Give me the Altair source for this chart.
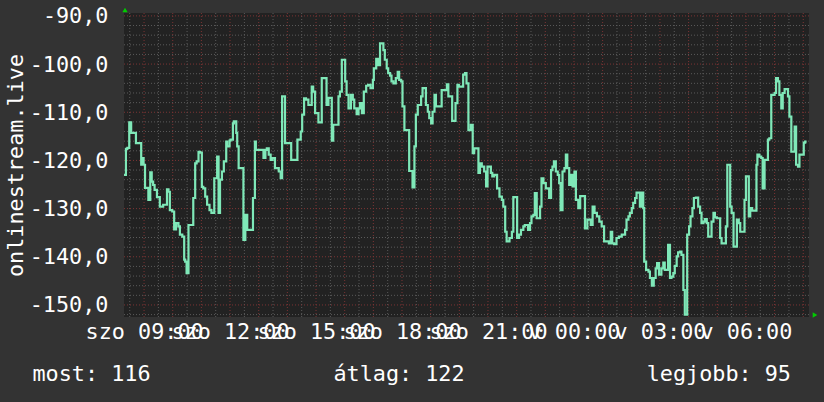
import altair as alt
import pandas as pd

# time in minutes since Saturday 00:00, value of the series
t_min = [
    498, 502, 505, 509, 513, 523, 534, 536, 539, 542,
    549, 553, 556, 559, 562, 567, 573, 580, 588, 591,
    594, 599, 603, 607, 612, 615, 620, 624, 626, 629,
    633, 643, 647, 650, 654, 657, 661, 664, 668, 672,
    677, 681, 687, 693, 696, 699, 703, 707, 712, 714,
    719, 721, 726, 728, 733, 735, 738, 748, 752, 756,
    768, 772, 774, 790, 794, 797, 801, 805, 809, 814,
    822, 826, 829, 835, 848, 861, 868, 871, 875, 879,
    884, 891, 894, 898, 905, 912, 922, 926, 933, 936,
    947, 950, 954, 961, 964, 968, 973, 977, 980, 985,
    989, 992, 996, 1000, 1005, 1009, 1014, 1019, 1021, 1026,
    1030, 1034, 1041, 1044, 1048, 1051, 1055, 1058, 1062, 1067,
    1071, 1074, 1078, 1081, 1085, 1095, 1102, 1106, 1109, 1113,
    1120, 1123, 1130, 1134, 1137, 1141, 1144, 1148, 1151, 1163,
    1174, 1177, 1185, 1192, 1196, 1199, 1208, 1212, 1215, 1219,
    1224, 1228, 1231, 1240, 1243, 1247, 1252, 1256, 1259, 1266,
    1269, 1273, 1279, 1284, 1289, 1292, 1296, 1299, 1305, 1310,
    1313, 1321, 1325, 1329, 1334, 1337, 1344, 1348, 1351, 1355,
    1358, 1362, 1369, 1372, 1376, 1381, 1388, 1392, 1395, 1398,
    1402, 1406, 1409, 1412, 1416, 1420, 1423, 1426, 1430, 1434,
    1437, 1441, 1444, 1449, 1453, 1463, 1468, 1475, 1479, 1483,
    1488, 1493, 1498, 1503, 1513, 1517, 1520, 1524, 1529, 1534,
    1540, 1547, 1550, 1554, 1557, 1561, 1564, 1568, 1571, 1578,
    1582, 1585, 1587, 1591, 1596, 1599, 1603, 1607, 1611, 1614,
    1618, 1623, 1627, 1630, 1637, 1641, 1644, 1648, 1651, 1655,
    1658, 1662, 1665, 1669, 1672, 1677, 1681, 1684, 1688, 1691,
    1695, 1700, 1704, 1707, 1711, 1714, 1718, 1721, 1728, 1732,
    1735, 1739, 1746, 1749, 1758, 1761, 1767, 1770, 1774, 1781,
    1785, 1788, 1797, 1800, 1806, 1809, 1813, 1822, 1824, 1828,
    1832, 1835, 1839, 1846, 1849, 1853, 1860, 1863, 1867, 1870,
    1874, 1877, 1881, 1888, 1891, 1895, 1902, 1905, 1909, 1912,
    1921, 1924, 1927,
]

values = [
    -123.0, -117.6, -117.4, -112.1, -114.3, -116.4, -120.9, -119.5, -120.9, -125.7,
    -128.2, -122.5, -124.4, -125.1, -126.1, -127.6, -129.6, -129.2, -126.0, -126.5,
    -130.3, -130.6, -134.3, -133.0, -133.7, -135.4, -135.8, -140.6, -141.0, -143.4,
    -133.4, -127.8, -120.6, -120.2, -118.2, -118.4, -125.5, -125.8, -127.5, -129.2,
    -130.3, -130.9, -123.7, -119.2, -130.9, -124.0, -122.3, -120.2, -116.1, -117.1,
    -115.9, -115.7, -112.3, -111.9, -114.3, -117.1, -121.6, -136.5, -131.3, -134.4,
    -127.8, -116.1, -117.8, -119.5, -117.8, -117.5, -118.8, -119.9, -119.5, -121.6,
    -122.3, -123.7, -106.7, -116.4, -119.9, -115.7, -114.0, -110.5, -107.1, -107.4,
    -108.5, -104.7, -105.7, -110.2, -112.1, -102.9, -108.5, -107.0, -115.9, -112.6,
    -106.7, -105.7, -99.1, -103.6, -106.4, -109.2, -106.4, -107.4, -109.2, -110.4,
    -109.2, -108.1, -110.2, -105.7, -104.5, -104.3, -105.0, -103.3, -100.9, -98.9,
    -100.2, -95.7, -97.1, -99.1, -100.9, -101.9, -102.4, -103.6, -104.0, -102.9,
    -101.6, -103.3, -103.6, -108.8, -113.7, -122.2, -125.6, -117.1, -110.5, -108.5,
    -106.7, -105.0, -108.5, -109.9, -111.2, -112.3, -109.9, -106.4, -108.8, -105.4,
    -104.2, -106.7, -111.8, -108.1, -104.3, -104.7, -102.2, -101.9, -104.0, -113.7,
    -112.6, -118.5, -117.5, -122.6, -120.6, -121.3, -122.3, -125.4, -121.3, -122.6,
    -123.3, -123.0, -125.8, -127.5, -128.2, -129.6, -134.8, -136.8, -136.1, -134.8,
    -127.6, -136.1, -135.4, -134.4, -133.7, -133.4, -134.4, -133.0, -131.6, -131.3,
    -126.8, -132.0, -129.6, -123.7, -124.7, -125.8, -127.8, -122.0, -121.3, -120.2,
    -122.3, -123.0, -124.7, -130.3, -122.3, -121.6, -118.8, -121.6, -125.1, -123.0,
    -125.4, -122.3, -128.2, -129.9, -127.4, -134.1, -132.3, -133.4, -129.6, -130.9,
    -131.6, -132.7, -133.7, -136.8, -137.2, -134.8, -137.2, -137.4, -136.1, -135.8,
    -135.4, -134.4, -132.3, -131.6, -130.9, -129.9, -128.8, -127.8, -126.7, -129.6,
    -126.7, -129.9, -141.0, -142.7, -143.1, -144.4, -146.0, -144.4, -142.4, -141.3,
    -143.7, -142.4, -141.2, -142.7, -137.5, -144.4, -144.1, -143.4, -141.9, -139.9,
    -139.1, -138.9, -139.6, -146.9, -152.0, -135.4, -133.7, -131.6, -129.9, -127.8,
    -127.7, -129.6, -130.9, -133.0, -132.7, -132.2, -133.0, -135.8, -132.7, -130.9,
    -131.8, -132.0, -136.1, -137.2, -133.7, -120.9, -129.6, -130.9, -137.9, -132.3,
    -133.0, -134.8, -128.2, -123.3, -131.6, -129.9, -130.4, -120.9, -118.8, -119.2,
    -119.5, -125.8, -119.9, -115.7, -115.4, -106.4, -106.0, -102.9, -103.6, -106.4,
    -109.2, -106.0, -105.2, -106.7, -110.9, -118.2, -113.0, -120.9, -121.3, -118.8,
    -116.3, -116.1, -116.1,
]

x_tick_min = [540, 720, 900, 1080, 1260, 1440, 1620, 1800]
x_tick_labels = ["szo 09:00", "szo 12:00", "szo 15:00", "szo 18:00",
                 "szo 21:00", "v 00:00", "v 03:00", "v 06:00"]
y_ticks = [-90, -100, -110, -120, -130, -140, -150]
y_title = "onlinestream.live"
stat_labels = ["most: 116", "átlag: 122", "legjobb: 95"]

X_DOMAIN = [498, 1932]
Y_DOMAIN = [-152.5, -89.4]

FONT = "DejaVu Sans Mono"
FS = 21.8
BG = "#333333"
CANVAS = "#222222"
MINOR = "#5a5a5a"
MAJOR = "#7c3434"
LINE = "#7fe8b8"
ARROW = "#00cc00"

W, H = 685, 304

df = pd.DataFrame({"t": t_min, "v": values})
xs = alt.Scale(domain=X_DOMAIN, nice=False, zero=False)
ys = alt.Scale(domain=Y_DOMAIN, nice=False, zero=False)

minor_x = pd.DataFrame({"t": list(range(510, X_DOMAIN[1], 60))})
major_x = pd.DataFrame({"t": list(range(540, X_DOMAIN[1], 60))})
minor_y = pd.DataFrame({"v": [v for v in range(-152, -89, 2) if v % 10 != 0]})
major_y = pd.DataFrame({"v": list(range(-150, -89, 10))})

xlab_expr = " : ".join(f"datum.value == {t} ? '{l}'" for t, l in zip(x_tick_min, x_tick_labels)) + " : ''"
ylab_expr = "(datum.value < 0 ? '-' : '') + abs(datum.value) + ',0'"

X_AXIS = alt.Axis(
    values=x_tick_min, labelExpr=xlab_expr, title=None, grid=False, ticks=False,
    tickSize=0, domain=False, labelPadding=21, labelBaseline="alphabetic",
    labelOverlap=False, labelFlush=False, labelBound=False, labelFont=FONT,
    labelFontSize=FS, labelColor="white")
Y_AXIS = alt.Axis(
    values=y_ticks, labelExpr=ylab_expr, title=y_title, grid=False, ticks=False,
    tickSize=0, domain=False, labelPadding=16, labelFont=FONT, labelFontSize=FS,
    labelColor="white", labelOverlap=False, titleFont=FONT, titleFontSize=FS,
    titleColor="white", titleFontWeight="normal", titleAngle=270,
    titleX=-102, titleY=H / 2, titleAlign="center", titleBaseline="alphabetic")

def vrule(data, color):
    return alt.Chart(data).mark_rule(color=color, strokeDash=[1, 2], strokeWidth=1).encode(
        x=alt.X("t:Q", scale=xs, axis=X_AXIS))

def hrule(data, color):
    return alt.Chart(data).mark_rule(color=color, strokeDash=[1, 2], strokeWidth=1).encode(
        y=alt.Y("v:Q", scale=ys, axis=Y_AXIS))

line = alt.Chart(df).mark_line(interpolate="step-after", color=LINE, strokeWidth=2.2).encode(
    x=alt.X("t:Q", scale=xs, axis=X_AXIS),
    y=alt.Y("v:Q", scale=ys, axis=Y_AXIS),
)

def stat(label, align, xpos):
    return alt.Chart(pd.DataFrame({"s": [label]})).mark_text(
        align=align, baseline="alphabetic", font=FONT, fontSize=FS, color="white"
    ).encode(x=alt.value(xpos), y=alt.value(368), text="s:N")

stats = [stat(stat_labels[0], "left", -91.5),
         stat(stat_labels[1], "center", 275),
         stat(stat_labels[2], "right", 667)]

one = pd.DataFrame({"a": [0]})
arrow_up = alt.Chart(one).mark_point(shape="triangle-up", filled=True, size=28,
                                      color=ARROW, opacity=1).encode(
    x=alt.value(1), y=alt.value(-3))
arrow_right = alt.Chart(one).mark_point(shape="triangle-right", filled=True, size=28,
                                         color=ARROW, opacity=1).encode(
    x=alt.value(691), y=alt.value(302))

chart = alt.layer(
    vrule(minor_x, MINOR), hrule(minor_y, MINOR),
    vrule(major_x, MAJOR), hrule(major_y, MAJOR),
    line, *stats, arrow_up, arrow_right,
).properties(
    width=W, height=H,
    padding={"left": 124, "top": 13, "right": 15, "bottom": 85},
    autosize=alt.AutoSizeParams(type="none"),
    background=BG,
).configure_view(fill=CANVAS, stroke=None)

chart.save("out.html", embed_options={"renderer": "svg", "actions": False,
                                      "defaultStyle": "body{background:#333333;margin:0;}"})
